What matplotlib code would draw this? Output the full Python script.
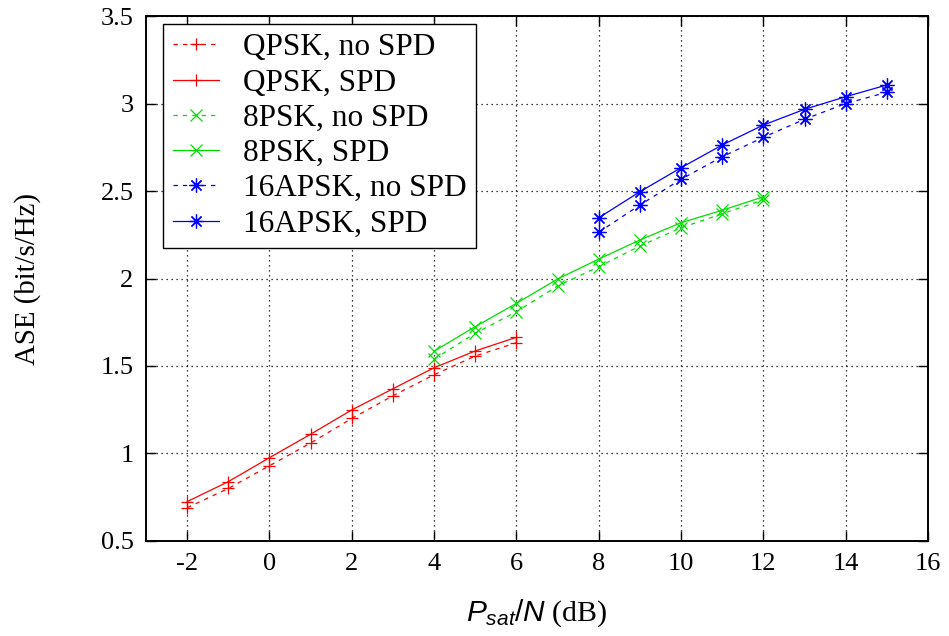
import matplotlib
matplotlib.use('Agg')
import matplotlib.pyplot as plt

plt.rcParams['font.family'] = ['Liberation Serif', 'DejaVu Serif']
plt.rcParams['mathtext.fontset'] = 'custom'
plt.rcParams['mathtext.it'] = 'Liberation Sans:italic'
plt.rcParams['mathtext.rm'] = 'Liberation Sans'
plt.rcParams['axes.unicode_minus'] = False

# data
x_qpsk = [-2, -1, 0, 1, 2, 3, 4, 5, 6]
qpsk_nospd = [0.69, 0.80, 0.93, 1.06, 1.20, 1.33, 1.45, 1.557, 1.633]
qpsk_spd = [0.725, 0.839, 0.976, 1.11, 1.249, 1.37, 1.49, 1.586, 1.664]

x_8psk = [4, 5, 6, 7, 8, 9, 10, 11, 12]
psk8_nospd = [1.54, 1.687, 1.81, 1.957, 2.067, 2.186, 2.29, 2.37, 2.449]
psk8_spd = [1.585, 1.725, 1.858, 1.997, 2.111, 2.22, 2.319, 2.39, 2.467]

x_16apsk = [8, 9, 10, 11, 12, 13, 14, 15]
apsk16_nospd = [2.264, 2.42, 2.567, 2.696, 2.807, 2.91, 3.0, 3.064]
apsk16_spd = [2.347, 2.496, 2.633, 2.763, 2.877, 2.967, 3.039, 3.106]

fig = plt.figure(figsize=(9.49, 6.36), dpi=100)
ax = fig.add_axes([0.1538, 0.1494, 0.8241, 0.8254])

fz = 19
dash = (0, (3.5, 4))
star = (8, 2, 0)
lw = 0.9
ms = 9

ax.plot(x_qpsk, qpsk_nospd, color='#ff0000', ls=dash, lw=lw, marker='+', ms=ms, mew=lw, label='QPSK, no SPD')
ax.plot(x_qpsk, qpsk_spd, color='#ff0000', ls='-', lw=lw, marker='+', ms=ms, mew=lw, label='QPSK, SPD')
ax.plot(x_8psk, psk8_nospd, color='#00e000', ls=dash, lw=lw, marker='x', ms=ms, mew=lw, label='8PSK, no SPD')
ax.plot(x_8psk, psk8_spd, color='#00e000', ls='-', lw=lw, marker='x', ms=ms, mew=lw, label='8PSK, SPD')
ax.plot(x_16apsk, apsk16_nospd, color='#0000ff', ls=dash, lw=lw, marker=star, ms=ms + 1, mew=lw, label='16APSK, no SPD')
ax.plot(x_16apsk, apsk16_spd, color='#0000ff', ls='-', lw=lw, marker=star, ms=ms + 1, mew=lw, label='16APSK, SPD')

ax.set_xlim(-3, 16)
ax.set_ylim(0.5, 3.5)
ax.set_xticks(range(-2, 17, 2))
ax.set_yticks([0.5, 1, 1.5, 2, 2.5, 3, 3.5])
ax.set_yticklabels(['0.5', '1', '1.5', '2', '2.5', '3', '3.5'])

ax.grid(True, color='black', ls=(0, (1, 3)), lw=0.9)
ax.tick_params(direction='in', top=True, right=True, length=7, width=1, labelsize=fz, pad=9)
for s in ax.spines.values():
    s.set_linewidth(1.4)

ax.set_ylabel('ASE (bit/s/Hz)', fontsize=20.8, labelpad=43)
ax.set_xlabel(r'$P_{sat}/N$ (dB)', fontsize=21.5, labelpad=16)

leg = ax.legend(loc='upper left', bbox_to_anchor=(0.022, 0.985), fontsize=22.5, frameon=True,
                fancybox=False, edgecolor='black', framealpha=1, handlelength=1.5,
                handletextpad=0.75, labelspacing=0.2, borderpad=0.3, borderaxespad=0)
leg.get_frame().set_linewidth(1.0)

fig.savefig('out.png', dpi=100)
